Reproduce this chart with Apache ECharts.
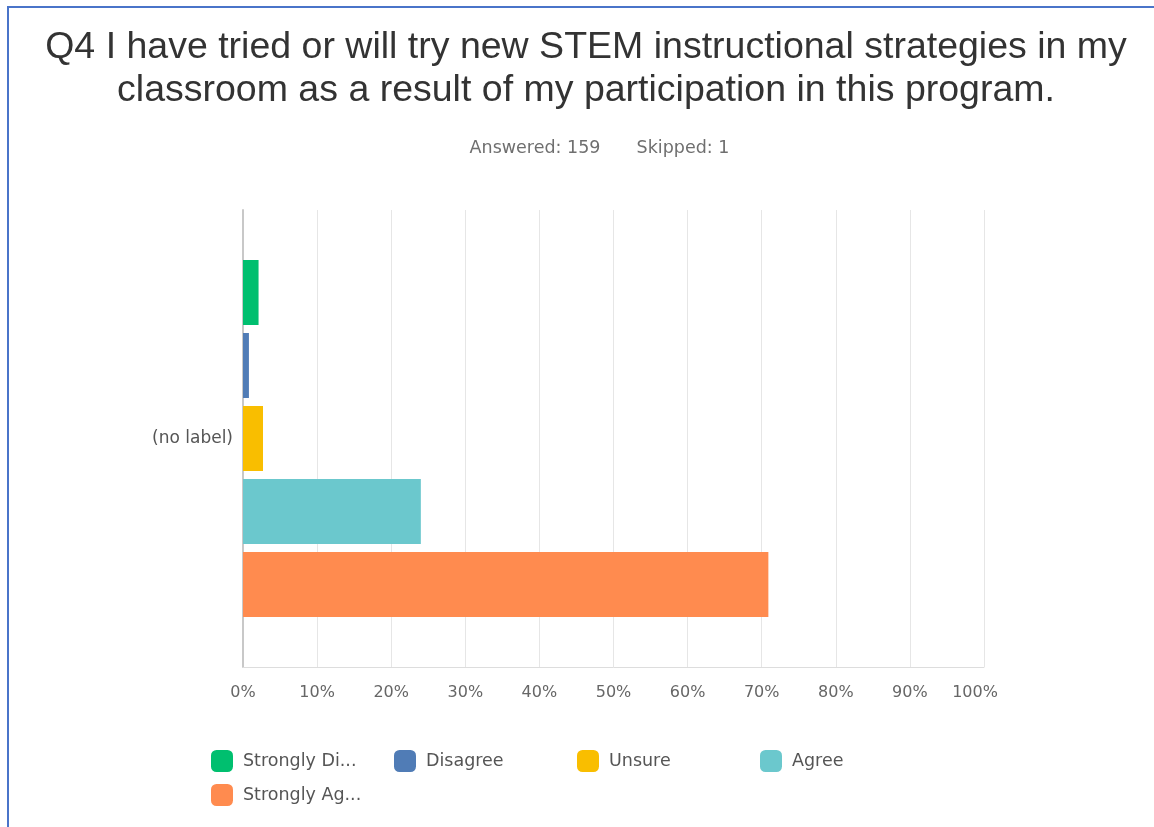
<!DOCTYPE html>
<html>
<head>
<meta charset="utf-8">
<script src="https://cdn.jsdelivr.net/npm/echarts@6/dist/echarts.min.js"></script>
<style>
html,body{margin:0;padding:0;background:#fff;}
#chart{width:1154px;height:827px;}
</style>
</head>
<body>
<div id="chart"></div>
<script>
// Data
const titleLines = ['Q4 I have tried or will try new STEM instructional strategies in my', 'classroom as a result of my participation in this program.'];
const answeredText = 'Answered: 159';
const skippedText = 'Skipped: 1';
const categories = ['(no label)'];
const seriesNames = ['Strongly Disagree', 'Disagree', 'Unsure', 'Agree', 'Strongly Agree'];
const legendLabels = ['Strongly Di...', 'Disagree', 'Unsure', 'Agree', 'Strongly Ag...'];
const seriesValues = [2.1, 0.8, 2.7, 24.0, 70.9];
const seriesColors = ['#00bf6f', '#507cb6', '#f9be00', '#6bc8cd', '#ff8b4f'];
const xTickMax = 100;
const xTickStep = 10;

const chart = echarts.init(document.getElementById('chart'));

const legendPos = [[211, 750], [394, 750], [577, 750], [760, 750], [211, 784]];
const labelFont = {fontFamily: 'DejaVu Sans', fontSize: 16, color: '#666'};

const option = {
  backgroundColor: '#fff',
  animation: false,
  graphic: [{
    type: 'rect',
    shape: {x: 8, y: 7, width: 1300, height: 1000},
    style: {fill: 'none', stroke: '#4a74c9', lineWidth: 2},
    silent: true
  }],
  title: [{
    text: titleLines.join('\n'),
    left: 581, top: 21, textAlign: 'center',
    textStyle: {fontFamily: 'Liberation Sans', fontSize: 37.5, fontWeight: 'normal', color: '#333', lineHeight: 43}
  }, {
    text: answeredText,
    left: 530, top: 134, textAlign: 'center',
    textStyle: {fontFamily: 'DejaVu Sans', fontSize: 17.5, fontWeight: 'normal', color: '#6f6f6f'}
  }, {
    text: skippedText,
    left: 678, top: 134, textAlign: 'center',
    textStyle: {fontFamily: 'DejaVu Sans', fontSize: 17.5, fontWeight: 'normal', color: '#6f6f6f'}
  }],
  legend: seriesNames.map((n, i) => ({
    data: [n],
    left: legendPos[i][0], top: legendPos[i][1],
    padding: 0,
    itemWidth: 22, itemHeight: 22, itemGap: 10,
    icon: 'roundRect',
    formatter: () => legendLabels[i],
    textStyle: {fontFamily: 'DejaVu Sans', fontSize: 17.5, color: '#555', padding: [0, 0, 0, 5]},
    selectedMode: false
  })),
  grid: {left: 243, right: 170, top: 210, bottom: 160, containLabel: false},
  xAxis: {
    type: 'value', min: 0, max: xTickMax, interval: xTickStep,
    axisLabel: {
      formatter: v => v === xTickMax ? '{last|' + v + '%}' : v + '%',
      ...labelFont, margin: 18,
      rich: {last: {...labelFont, padding: [0, 18, 0, 0]}}
    },
    axisLine: {show: true, lineStyle: {color: '#ddd', width: 1}},
    axisTick: {show: false},
    splitLine: {show: true, lineStyle: {color: '#e6e6e6', width: 1}}
  },
  yAxis: {
    type: 'category', data: categories, inverse: true,
    axisLine: {show: true, lineStyle: {color: '#c8c8c8', width: 2}},
    axisTick: {show: false},
    axisLabel: {color: '#555', fontFamily: 'DejaVu Sans', fontSize: 17, margin: 10}
  },
  series: seriesNames.map((n, i) => ({
    name: n, type: 'bar',
    data: [seriesValues[i]],
    barWidth: 65, barGap: '12.3%',
    itemStyle: {color: seriesColors[i]}
  }))
};
chart.setOption(option);
</script>
</body>
</html>
